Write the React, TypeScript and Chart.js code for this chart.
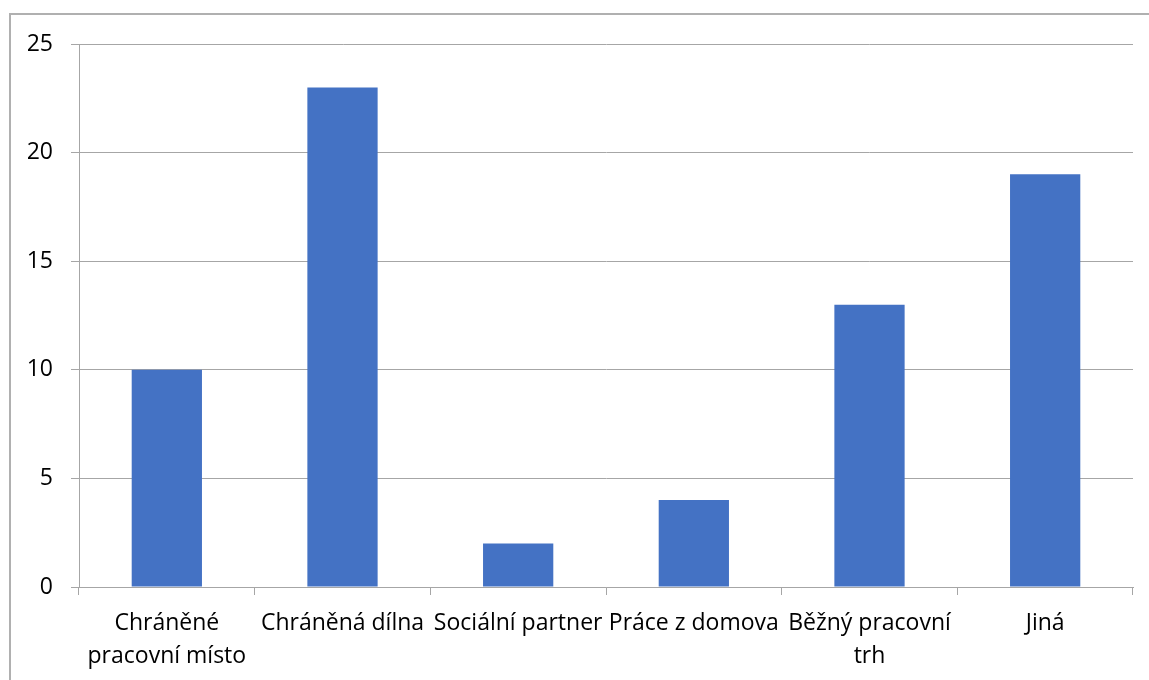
import React, { useEffect, useRef } from "react";
import { Chart, registerables } from "chart.js";

Chart.register(...registerables);

const categories: (string | string[])[] = [
  ["Chráněné", "pracovní místo"],
  "Chráněná dílna",
  "Sociální partner",
  "Práce z domova",
  ["Běžný pracovní", "trh"],
  "Jiná",
];
const values: number[] = [10, 23, 2, 4, 13, 19];
const yTicks: number[] = [0, 5, 10, 15, 20, 25];

const GRID = "#a6a6a6";
const FONT = "'Open Sans', sans-serif";

export default function App() {
  const ref = useRef<HTMLCanvasElement | null>(null);

  useEffect(() => {
    if (!ref.current) return;
    const chart = new Chart(ref.current, {
      type: "bar",
      data: {
        labels: categories,
        datasets: [
          {
            data: values,
            backgroundColor: "#4472C4",
            borderWidth: 0,
            categoryPercentage: 0.4,
            barPercentage: 1,
          },
        ],
      },
      options: {
        animation: false,
        responsive: false,
        maintainAspectRatio: false,
        layout: { padding: { left: 28, right: 16, top: 44, bottom: 1 } },
        plugins: { legend: { display: false }, tooltip: { enabled: false } },
        scales: {
          x: {
            grid: {
              display: true,
              drawOnChartArea: false,
              drawTicks: true,
              tickLength: 8,
              color: GRID,
              lineWidth: 1,
            },
            border: { display: true, color: GRID, width: 1 },
            ticks: {
              color: "#000",
              font: { family: FONT, size: 23, lineHeight: 1.42 },
              maxRotation: 0,
              minRotation: 0,
              autoSkip: false,
              padding: 12,
            },
            afterFit: (scale: any) => {
              scale.height = 92;
            },
          },
          y: {
            min: 0,
            max: 25,
            afterBuildTicks: (scale: any) => {
              scale.ticks = yTicks.map((v) => ({ value: v }));
            },
            grid: {
              color: GRID,
              lineWidth: 1,
              drawTicks: true,
              tickLength: 8,
            },
            border: { display: true, color: GRID, width: 1 },
            ticks: {
              color: "#000",
              font: { family: FONT, size: 23, lineHeight: 1.2 },
              padding: 18,
            },
            afterFit: (scale: any) => {
              scale.width = 51;
            },
          },
        },
      },
    });
    return () => chart.destroy();
  }, []);

  return (
    <div
      style={{
        position: "fixed",
        left: 0,
        top: 0,
        width: 1149,
        height: 680,
        overflow: "hidden",
        background: "#fff",
      }}
    >
      <div
        style={{
          position: "absolute",
          left: 9,
          top: 13,
          width: 1200,
          height: 800,
          borderLeft: "2px solid #b0b0b0",
          borderTop: "2px solid #b0b0b0",
        }}
      />
      <canvas
        ref={ref}
        width={1149}
        height={680}
        style={{ position: "absolute", left: 0, top: 0 }}
      />
    </div>
  );
}
